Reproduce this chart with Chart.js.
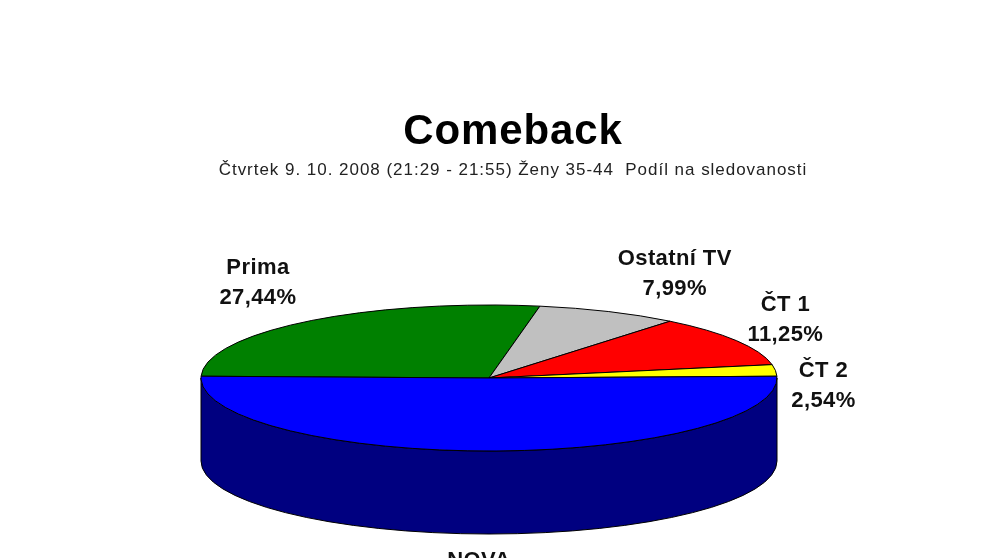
<!DOCTYPE html>
<html>
<head>
<meta charset="utf-8">
<title>Comeback</title>
<script src="https://cdn.jsdelivr.net/npm/chart.js@4"></script>
<style>
  html, body { margin: 0; background: #fff; overflow: hidden; }
  #wrap { position: relative; width: 991px; height: 558px; }
  #heading, #sub { position: absolute; left: 0; width: 1026px; text-align: center; color: #000; font-family: "Liberation Sans", sans-serif; white-space: pre; }
  #heading { top: 104px; font-size: 42px; font-weight: bold; letter-spacing: 0.9px; line-height: 52px; }
  #sub { top: 160px; font-size: 17px; letter-spacing: 0.97px; line-height: 20px; color: #222; }
</style>
</head>
<body>
<div id="wrap">
  <canvas id="pie" width="991" height="558"></canvas>
  <div id="heading">Comeback</div>
  <div id="sub">Čtvrtek 9. 10. 2008 (21:29 - 21:55) Ženy 35-44  Podíl na sledovanosti</div>
</div>
<script>
const labels = ['Prima', 'Ostatní TV', 'ČT 1', 'ČT 2', 'NOVA'];
const values = [27.44, 7.99, 11.25, 2.54, 50.78];
const topColors = ['#008000', '#c0c0c0', '#ff0000', '#ffff00', '#0000ff'];
const sideColors = ['#004000', '#606060', '#800000', '#808000', '#000080'];
// label position relative to the rim point of its slice
const labelOffsets = [[-49, -38], [66, -38], [49, -21], [48, 16], [-10, 125]];

const squash = 0.2535; // flattening of the pie
const depth = 83;      // height of the side wall

function slicePath(ctx, a) {
  ctx.beginPath();
  ctx.moveTo(a.x, a.y);
  ctx.arc(a.x, a.y, a.outerRadius, a.startAngle, a.endAngle);
  ctx.closePath();
}

const pie3d = {
  id: 'pie3d',
  beforeDatasetDraw() { return false; },
  afterDatasetsDraw(chart) {
    const ctx = chart.ctx;
    const arcs = chart.getDatasetMeta(0).data;
    const cx = arcs[0].x, cy = arcs[0].y;

    // side wall, only the front half can be seen
    arcs.forEach((a, i) => {
      const from = Math.max(a.startAngle, 0), to = Math.min(a.endAngle, Math.PI);
      if (to <= from) return;
      const r = a.outerRadius, ry = r * squash;
      ctx.beginPath();
      ctx.ellipse(cx, cy, r, ry, 0, from, to);
      ctx.ellipse(cx, cy + depth, r, ry, 0, to, from, true);
      ctx.closePath();
      ctx.fillStyle = sideColors[i];
      ctx.fill();
      ctx.strokeStyle = '#000';
      ctx.lineWidth = 1;
      ctx.stroke();
    });

    // top face, the arcs themselves under a flattened transform
    arcs.forEach((a) => {
      ctx.save();
      ctx.translate(cx, cy);
      ctx.scale(1, squash);
      ctx.translate(-cx, -cy);
      a.draw(ctx);
      slicePath(ctx, a);
      ctx.restore();
      ctx.strokeStyle = '#000';
      ctx.lineWidth = 1;
      ctx.stroke();
    });

    // labels
    ctx.save();
    ctx.fillStyle = '#111';
    ctx.font = 'bold 22px "Liberation Sans", sans-serif';
    ctx.letterSpacing = '0.4px';
    ctx.textAlign = 'center';
    ctx.textBaseline = 'middle';
    arcs.forEach((a, i) => {
      const mid = (a.startAngle + a.endAngle) / 2;
      const x = cx + a.outerRadius * Math.cos(mid) + labelOffsets[i][0];
      const y = cy + a.outerRadius * squash * Math.sin(mid) + labelOffsets[i][1];
      ctx.fillText(labels[i], x, y - 15);
      ctx.fillText(values[i].toFixed(2).replace('.', ',') + '%', x, y + 15);
    });
    ctx.restore();
  }
};

new Chart(document.getElementById('pie'), {
  type: 'pie',
  data: {
    labels: labels,
    datasets: [{ data: values, backgroundColor: topColors, borderWidth: 0, radius: 288 }]
  },
  options: {
    responsive: false,
    animation: false,
    rotation: -88.6,
    layout: { padding: { left: 0, right: 13, top: 198, bottom: 0 } },
    plugins: { legend: { display: false }, tooltip: { enabled: false } }
  },
  plugins: [pie3d]
});
</script>
</body>
</html>
